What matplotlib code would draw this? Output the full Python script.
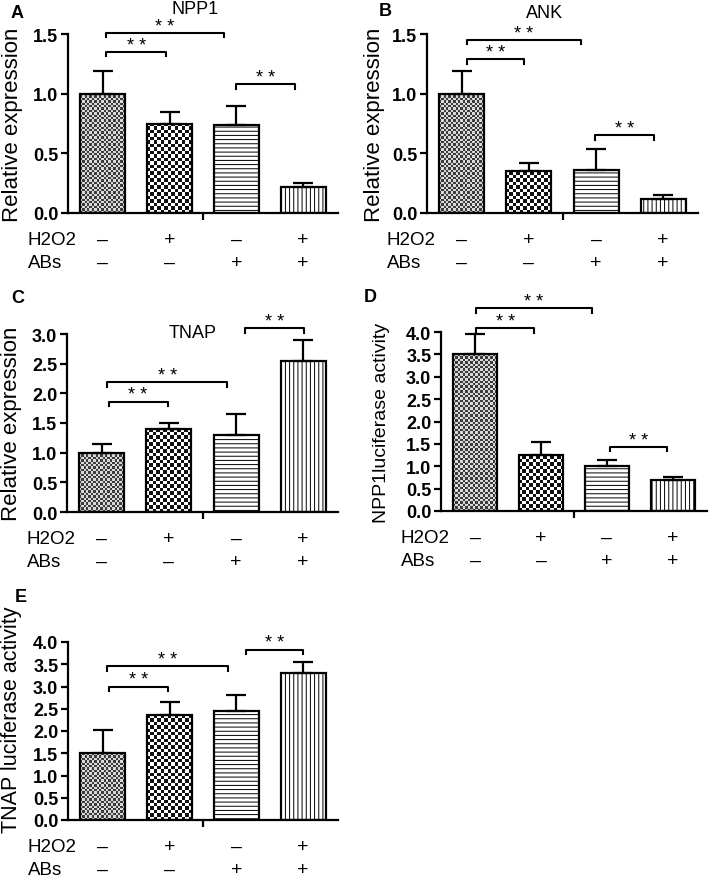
import numpy as np
import matplotlib
matplotlib.use("Agg")
import matplotlib.pyplot as plt

plt.rcParams['font.family'] = ['Liberation Sans', 'DejaVu Sans']
plt.rcParams['hatch.linewidth'] = 0.7
plt.rcParams['hatch.color'] = '#333333'

# treatment rows under each panel
h2o2_signs = ['–', '+', '–', '+']
abs_signs = ['–', '–', '+', '+']

# A: NPP1 relative expression
npp1_mean = [1.00, 0.75, 0.74, 0.22]
npp1_err = [0.19, 0.10, 0.16, 0.03]
npp1_sig = [(0.05, 0.95, 1.35), (0.05, 1.81, 1.51), (2.0, 2.88, 1.08)]

# B: ANK relative expression
ank_mean = [1.00, 0.35, 0.36, 0.12]
ank_err = [0.19, 0.07, 0.18, 0.03]
ank_sig = [(0.07, 0.93, 1.29), (0.07, 1.78, 1.45), (1.99, 2.86, 0.65)]

# C: TNAP relative expression
tnap_mean = [1.00, 1.40, 1.30, 2.55]
tnap_err = [0.14, 0.10, 0.35, 0.35]
tnap_sig = [(0.10, 0.98, 1.86), (0.08, 1.87, 2.19), (2.13, 3.02, 3.10)]

# D: NPP1 luciferase activity
npp1_luc_mean = [3.50, 1.25, 1.00, 0.70]
npp1_luc_err = [0.45, 0.30, 0.15, 0.05]
npp1_luc_sig = [(0.01, 0.90, 4.08), (0.01, 1.77, 4.53), (2.04, 2.92, 1.43)]

# E: TNAP luciferase activity
tnap_luc_mean = [1.50, 2.35, 2.45, 3.30]
tnap_luc_err = [0.53, 0.30, 0.35, 0.25]
tnap_luc_sig = [(0.10, 0.97, 3.00), (0.07, 1.87, 3.45), (2.14, 3.00, 3.83)]

W, H = 709, 878
fig = plt.figure(figsize=(W / 100, H / 100), dpi=100)


def px_axes(left, right, top, bottom):
    return fig.add_axes([left / W, 1 - bottom / H, (right - left) / W, (bottom - top) / H])


def checker(ax, rect, cell, dark, light):
    # fill a bar with a checkerboard clipped to the bar shape
    x0, y0 = rect.get_x(), rect.get_y()
    x1, y1 = x0 + rect.get_width(), y0 + rect.get_height()
    p0 = ax.transData.transform((x0, y0))
    p1 = ax.transData.transform((x1, y1))
    nx = max(1, int(round(abs(p1[0] - p0[0]) / cell)))
    ny = max(1, int(round(abs(p1[1] - p0[1]) / cell)))
    ii, jj = np.meshgrid(np.arange(nx), np.arange(ny))
    img = (ii + jj) % 2
    cmap = matplotlib.colors.ListedColormap([dark, light])
    im = ax.imshow(img, extent=(x0, x1, y0, y1), cmap=cmap, interpolation='nearest',
                   aspect='auto', origin='lower', zorder=2)
    im.set_clip_path(rect)


def panel(rect_px, means, errs, sigs, yticks, ylabel, ylabel_size, ylabel_x, ylabel_y=0.5):
    ax = px_axes(*rect_px)
    x = np.arange(len(means))
    ax.set_xlim(-0.52, 3.52)
    ax.set_ylim(0, yticks[-1])
    bars = ax.bar(x, means, width=0.67, facecolor='none', edgecolor='black',
                  linewidth=1.6, zorder=3)
    # patterns
    checker(ax, bars[0], 2.4, '#3c3c3c', '#d8d8d8')
    checker(ax, bars[1], 3.4, '#111111', '#ffffff')
    bars[2].set_hatch('----')
    bars[3].set_hatch('||||')
    ax.errorbar(x, means, yerr=[np.zeros(len(errs)), errs], fmt='none', ecolor='black',
                elinewidth=1.6, capsize=7.5, capthick=1.6, zorder=4)
    for s in ['top', 'right']:
        ax.spines[s].set_visible(False)
    for s in ['left', 'bottom']:
        ax.spines[s].set_linewidth(1.6)
    ax.set_yticks(yticks)
    ax.set_yticklabels([f'{t:.1f}' for t in yticks], fontweight='bold', fontsize=13)
    ax.tick_params(axis='y', width=1.6, length=5, pad=2)
    ax.set_xticks([1.5])
    ax.set_xticklabels([''])
    ax.tick_params(axis='x', width=1.6, length=5)
    ax.set_ylabel(ylabel, fontsize=ylabel_size)
    ax.yaxis.set_label_coords(ylabel_x, ylabel_y)

    ytop = yticks[-1]
    d = ytop * 0.025
    for x0, x1, y in sigs:
        ax.plot([x0, x0, x1, x1], [y - d, y, y, y - d], color='black', lw=1.5,
                clip_on=False, zorder=5)
        ax.text((x0 + x1) / 2, y - ytop * 0.01, '* *', ha='center', va='bottom',
                fontsize=13, clip_on=False)

    for xi, s in zip(x, h2o2_signs):
        ax.annotate(s, xy=(xi, 0), xycoords=('data', 'axes fraction'), xytext=(0, -22.5),
                    textcoords='offset points', ha='center', va='baseline', fontsize=14)
    for xi, s in zip(x, abs_signs):
        ax.annotate(s, xy=(xi, 0), xycoords=('data', 'axes fraction'), xytext=(0, -39),
                    textcoords='offset points', ha='center', va='baseline', fontsize=14)
    ax.annotate('H2O2', xy=(0, 0), xycoords='axes fraction', xytext=(-29, -22.5),
                textcoords='offset points', ha='left', va='baseline', fontsize=13.5)
    ax.annotate('ABs', xy=(0, 0), xycoords='axes fraction', xytext=(-29, -39),
                textcoords='offset points', ha='left', va='baseline', fontsize=13.5)
    return ax


t15 = [0.0, 0.5, 1.0, 1.5]
t30 = [0.0, 0.5, 1.0, 1.5, 2.0, 2.5, 3.0]
t40 = [0.0, 0.5, 1.0, 1.5, 2.0, 2.5, 3.0, 3.5, 4.0]

panel((68, 338, 35, 214), npp1_mean, npp1_err, npp1_sig, t15, 'Relative expression', 16, -0.165)
panel((427, 698, 35, 214), ank_mean, ank_err, ank_sig, t15, 'Relative expression', 16, -0.155)
panel((67, 338, 335, 513), tnap_mean, tnap_err, tnap_sig, t30, 'Relative expression', 16, -0.165)
panel((441, 707, 333, 512), npp1_luc_mean, npp1_luc_err, npp1_luc_sig, t40,
      'NPP1luciferase activity', 14, -0.19)
panel((68, 338, 643, 821), tnap_luc_mean, tnap_luc_err, tnap_luc_sig, t40,
      'TNAP luciferase activity', 15.5, -0.17, 0.57)


def ftext(px, py, s, **kw):
    fig.text(px / W, 1 - py / H, s, **kw)


ftext(195, 9, 'NPP1', ha='center', va='center', fontsize=13)
ftext(545, 14, 'ANK', ha='center', va='center', fontsize=13)
ftext(193, 334, 'TNAP', ha='center', va='center', fontsize=13)
for lx, ly, lab in [(11, 13, 'A'), (379, 12, 'B'), (11, 299, 'C'), (364, 298, 'D'), (15, 598, 'E')]:
    ftext(lx, ly, lab, ha='left', va='center', fontsize=13, fontweight='bold')

fig.savefig('out.png', dpi=100)
